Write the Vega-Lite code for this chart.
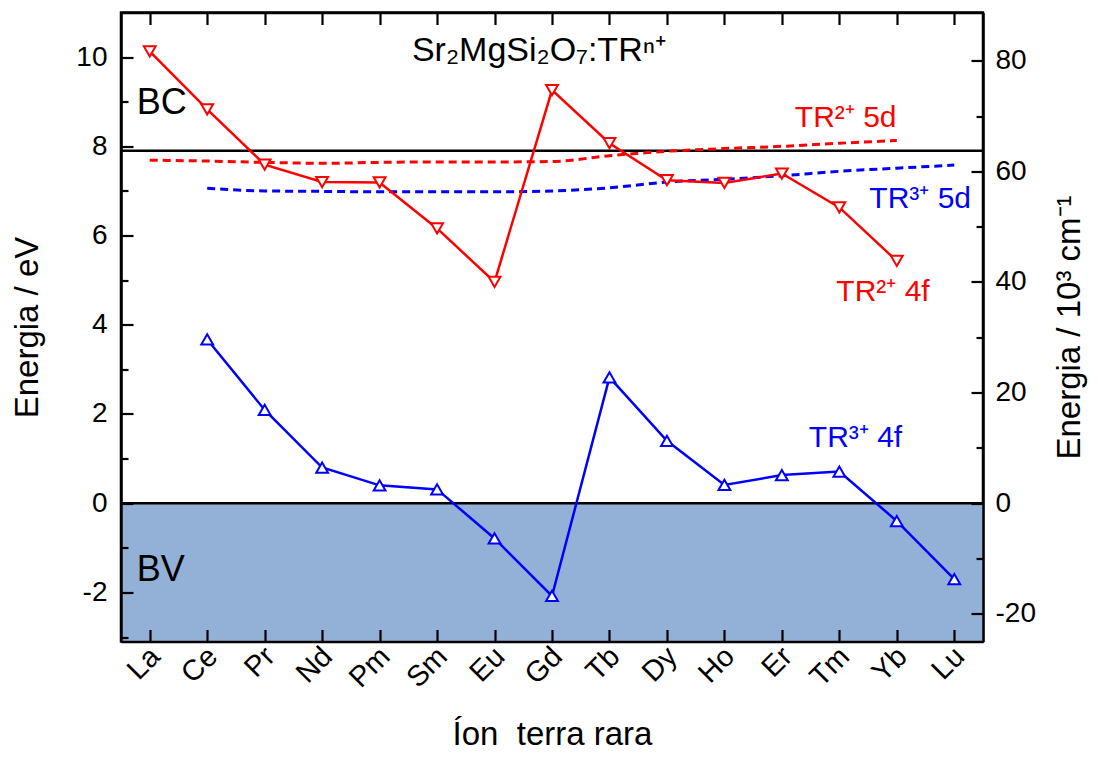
{
  "$schema": "https://vega.github.io/schema/vega-lite/v6.json",
  "autosize": {"type": "none"},
  "padding": {"left": 121, "top": 12.5, "right": 115, "bottom": 127},
  "width": 862,
  "height": 629,
  "background": "white",
  "config": {
    "font": "Liberation Sans",
    "view": {"stroke": "black", "strokeWidth": 2.5},
    "axis": {"grid": false, "domainColor": "black", "domainWidth": 2.5, "tickColor": "black", "tickWidth": 2.2, "labelColor": "black", "titleColor": "black", "labelFont": "Liberation Sans", "titleFont": "Liberation Sans", "titleFontWeight": "normal", "zindex": 2}
  },
  "datasets": {
    "f4": [
      {"ion": "La", "ev": 10.13, "serie": "TR2+"},
      {"ion": "Ce", "ev": 8.83, "serie": "TR2+"},
      {"ion": "Pr", "ev": 7.59, "serie": "TR2+"},
      {"ion": "Nd", "ev": 7.2, "serie": "TR2+"},
      {"ion": "Pm", "ev": 7.19, "serie": "TR2+"},
      {"ion": "Sm", "ev": 6.16, "serie": "TR2+"},
      {"ion": "Eu", "ev": 4.96, "serie": "TR2+"},
      {"ion": "Gd", "ev": 9.26, "serie": "TR2+"},
      {"ion": "Tb", "ev": 8.07, "serie": "TR2+"},
      {"ion": "Dy", "ev": 7.24, "serie": "TR2+"},
      {"ion": "Ho", "ev": 7.18, "serie": "TR2+"},
      {"ion": "Er", "ev": 7.39, "serie": "TR2+"},
      {"ion": "Tm", "ev": 6.63, "serie": "TR2+"},
      {"ion": "Yb", "ev": 5.43, "serie": "TR2+"},
      {"ion": "Ce", "ev": 3.67, "serie": "TR3+"},
      {"ion": "Pr", "ev": 2.09, "serie": "TR3+"},
      {"ion": "Nd", "ev": 0.8, "serie": "TR3+"},
      {"ion": "Pm", "ev": 0.4, "serie": "TR3+"},
      {"ion": "Sm", "ev": 0.31, "serie": "TR3+"},
      {"ion": "Eu", "ev": -0.79, "serie": "TR3+"},
      {"ion": "Gd", "ev": -2.08, "serie": "TR3+"},
      {"ion": "Tb", "ev": 2.82, "serie": "TR3+"},
      {"ion": "Dy", "ev": 1.4, "serie": "TR3+"},
      {"ion": "Ho", "ev": 0.41, "serie": "TR3+"},
      {"ion": "Er", "ev": 0.63, "serie": "TR3+"},
      {"ion": "Tm", "ev": 0.71, "serie": "TR3+"},
      {"ion": "Yb", "ev": -0.4, "serie": "TR3+"},
      {"ion": "Lu", "ev": -1.7, "serie": "TR3+"}
    ],
    "d5": [
      {"ion": "La", "ev": 7.69, "serie": "TR2+"},
      {"ion": "Ce", "ev": 7.67, "serie": "TR2+"},
      {"ion": "Pr", "ev": 7.64, "serie": "TR2+"},
      {"ion": "Nd", "ev": 7.62, "serie": "TR2+"},
      {"ion": "Pm", "ev": 7.64, "serie": "TR2+"},
      {"ion": "Sm", "ev": 7.65, "serie": "TR2+"},
      {"ion": "Eu", "ev": 7.65, "serie": "TR2+"},
      {"ion": "Gd", "ev": 7.66, "serie": "TR2+"},
      {"ion": "Tb", "ev": 7.79, "serie": "TR2+"},
      {"ion": "Dy", "ev": 7.89, "serie": "TR2+"},
      {"ion": "Ho", "ev": 7.95, "serie": "TR2+"},
      {"ion": "Er", "ev": 8.0, "serie": "TR2+"},
      {"ion": "Tm", "ev": 8.07, "serie": "TR2+"},
      {"ion": "Yb", "ev": 8.13, "serie": "TR2+"},
      {"ion": "Ce", "ev": 7.06, "serie": "TR3+"},
      {"ion": "Pr", "ev": 7.0, "serie": "TR3+"},
      {"ion": "Nd", "ev": 6.99, "serie": "TR3+"},
      {"ion": "Pm", "ev": 6.98, "serie": "TR3+"},
      {"ion": "Sm", "ev": 6.98, "serie": "TR3+"},
      {"ion": "Eu", "ev": 6.98, "serie": "TR3+"},
      {"ion": "Gd", "ev": 7.0, "serie": "TR3+"},
      {"ion": "Tb", "ev": 7.07, "serie": "TR3+"},
      {"ion": "Dy", "ev": 7.2, "serie": "TR3+"},
      {"ion": "Ho", "ev": 7.26, "serie": "TR3+"},
      {"ion": "Er", "ev": 7.34, "serie": "TR3+"},
      {"ion": "Tm", "ev": 7.44, "serie": "TR3+"},
      {"ion": "Yb", "ev": 7.51, "serie": "TR3+"},
      {"ion": "Lu", "ev": 7.58, "serie": "TR3+"}
    ],
    "bv": [{"lo": -3.1, "hi": 0}],
    "hlines": [{"ev": 0}, {"ev": 7.9}],
    "cm": [{"ion": "La", "cm": 0}]
  },
  "resolve": {"scale": {"y": "independent"}},
  "layer": [
    {
      "resolve": {"axis": {"y": "independent", "x": "independent"}},
      "layer": [
        {
          "data": {"name": "bv"},
          "mark": {"type": "rect", "fill": "#93b1d6"},
          "encoding": {
            "y": {"field": "lo", "type": "quantitative",
              "scale": {"domain": [-3.1, 11], "nice": false, "zero": false},
              "axis": {"orient": "left", "zindex": 2, "values": [-2, 0, 2, 4, 6, 8, 10], "labelExpr": "'' + datum.value", "tickSize": -12, "labelPadding": 26, "labelFontSize": 28, "title": "Energia / eV", "titleFontSize": 33, "titlePadding": 31}},
            "y2": {"field": "hi"}
          }
        },
        {
          "data": {"name": "hlines"},
          "mark": {"type": "rule", "color": "black", "strokeWidth": 2.5},
          "encoding": {
            "y": {"field": "ev", "type": "quantitative",
              "axis": {"orient": "left", "zindex": 2, "values": [-3, -1, 1, 3, 5, 7, 9], "tickSize": -7, "labels": false, "domain": false, "title": null}}
          }
        },
        {
          "data": {"name": "d5"},
          "mark": {"type": "line", "strokeWidth": 3, "strokeDash": [8, 5], "interpolate": "monotone"},
          "encoding": {
            "x": {"field": "ion", "type": "nominal", "sort": null,
              "scale": {"type": "point", "padding": 0.5, "domain": ["La","Ce","Pr","Nd","Pm","Sm","Eu","Gd","Tb","Dy","Ho","Er","Tm","Yb","Lu"]},
              "axis": {"orient": "bottom", "zindex": 2, "tickSize": -12, "labelAngle": -45, "labelAlign": "right", "labelBaseline": "middle", "labelPadding": 22, "labelOffset": 5, "labelFontSize": 29, "title": "Íon\u00a0 terra rara", "titleFontSize": 33, "titlePadding": 26}},
            "y": {"field": "ev", "type": "quantitative", "axis": null},
            "color": {"field": "serie", "type": "nominal", "scale": {"domain": ["TR2+", "TR3+"], "range": ["#ff0000", "#0000ff"]}, "legend": null}
          }
        },
        {
          "data": {"name": "f4"},
          "mark": {"type": "line", "strokeWidth": 2.5},
          "encoding": {
            "x": {"field": "ion", "type": "nominal", "sort": null,
              "axis": {"orient": "top", "zindex": 2, "tickSize": -12, "labels": false, "title": null}},
            "y": {"field": "ev", "type": "quantitative", "axis": null},
            "color": {"field": "serie", "type": "nominal", "legend": null}
          }
        },
        {
          "data": {"name": "f4"},
          "mark": {"type": "point", "filled": true, "fill": "white", "fillOpacity": 1, "opacity": 1, "size": 140, "strokeWidth": 2},
          "encoding": {
            "x": {"field": "ion", "type": "nominal", "sort": null, "axis": null},
            "y": {"field": "ev", "type": "quantitative", "axis": null},
            "stroke": {"field": "serie", "type": "nominal", "scale": {"domain": ["TR2+", "TR3+"], "range": ["#ff0000", "#0000ff"]}, "legend": null},
            "shape": {"field": "serie", "type": "nominal", "scale": {"domain": ["TR2+", "TR3+"], "range": ["triangle-down", "triangle-up"]}, "legend": null}
          }
        },
        {
          "data": {"values": [{"ion": "La", "ev": 8.72, "label": "BC"}, {"ion": "La", "ev": -1.74, "label": "BV"}]},
          "mark": {"type": "text", "align": "left", "baseline": "alphabetic", "dx": -13, "fontSize": 36, "color": "black"},
          "encoding": {
            "x": {"field": "ion", "type": "nominal", "sort": null, "axis": null},
            "y": {"field": "ev", "type": "quantitative", "axis": null},
            "text": {"field": "label"}
          }
        },
        {
          "data": {"values": [{"ion": "Gd", "ev": 9.92, "label": "Sr₂MgSi₂O₇:TRⁿ⁺"}]},
          "mark": {"type": "text", "align": "center", "baseline": "alphabetic", "dx": -13, "fontSize": 34, "color": "black"},
          "encoding": {
            "x": {"field": "ion", "type": "nominal", "sort": null, "axis": null},
            "y": {"field": "ev", "type": "quantitative", "axis": null},
            "text": {"field": "label"}
          }
        },
        {
          "data": {"values": [{"ion": "Er", "ev": 8.43, "label": "TR²⁺ 5d"}]},
          "mark": {"type": "text", "align": "left", "baseline": "alphabetic", "dx": 13, "fontSize": 30, "color": "#ff0000"},
          "encoding": {
            "x": {"field": "ion", "type": "nominal", "sort": null, "axis": null},
            "y": {"field": "ev", "type": "quantitative", "axis": null},
            "text": {"field": "label"}
          }
        },
        {
          "data": {"values": [{"ion": "Tm", "ev": 4.54, "label": "TR²⁺ 4f"}]},
          "mark": {"type": "text", "align": "left", "baseline": "alphabetic", "dx": -3, "fontSize": 30, "color": "#ff0000"},
          "encoding": {
            "x": {"field": "ion", "type": "nominal", "sort": null, "axis": null},
            "y": {"field": "ev", "type": "quantitative", "axis": null},
            "text": {"field": "label"}
          }
        },
        {
          "data": {"values": [{"ion": "Tm", "ev": 6.61, "label": "TR³⁺ 5d"}]},
          "mark": {"type": "text", "align": "left", "baseline": "alphabetic", "dx": 30, "fontSize": 30, "color": "#0000ff"},
          "encoding": {
            "x": {"field": "ion", "type": "nominal", "sort": null, "axis": null},
            "y": {"field": "ev", "type": "quantitative", "axis": null},
            "text": {"field": "label"}
          }
        },
        {
          "data": {"values": [{"ion": "Er", "ev": 1.26, "label": "TR³⁺ 4f"}]},
          "mark": {"type": "text", "align": "left", "baseline": "alphabetic", "dx": 27, "fontSize": 30, "color": "#0000ff"},
          "encoding": {
            "x": {"field": "ion", "type": "nominal", "sort": null, "axis": null},
            "y": {"field": "ev", "type": "quantitative", "axis": null},
            "text": {"field": "label"}
          }
        }
      ]
    },
    {
      "data": {"name": "cm"},
      "resolve": {"axis": {"y": "independent"}},
      "layer": [
        {
          "mark": {"type": "point", "opacity": 0},
          "encoding": {
            "x": {"field": "ion", "type": "nominal", "sort": null, "axis": null},
            "y": {"field": "cm", "type": "quantitative",
              "scale": {"domain": [-25.0, 88.72], "nice": false, "zero": false},
              "axis": {"orient": "right", "zindex": 2, "values": [-20, 0, 20, 40, 60, 80], "labelExpr": "'' + datum.value", "tickSize": -12, "labelPadding": 24, "labelFontSize": 28, "title": "Energia / 10³ cm⁻¹", "titleFontSize": 33, "titlePadding": 18, "titleAngle": 270, "titleBaseline": "top"}}
          }
        },
        {
          "mark": {"type": "point", "opacity": 0},
          "encoding": {
            "x": {"field": "ion", "type": "nominal", "sort": null, "axis": null},
            "y": {"field": "cm", "type": "quantitative",
              "axis": {"orient": "right", "zindex": 2, "values": [-10, 10, 30, 50, 70], "tickSize": -7, "labels": false, "domain": false, "title": null}}
          }
        }
      ]
    }
  ]
}
